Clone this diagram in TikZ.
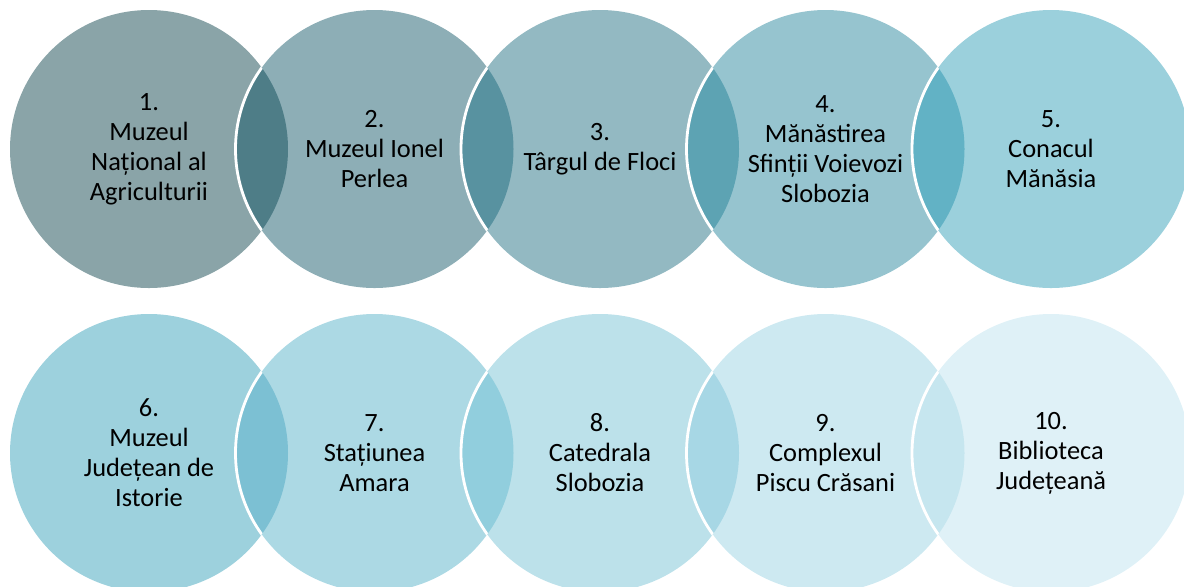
\documentclass[tikz,border=0pt]{standalone}
\usepackage{fontspec}
\setmainfont{Carlito}
\definecolor{cA}{HTML}{8AA4A8}
\definecolor{cB}{HTML}{8DAEB6}
\definecolor{cC}{HTML}{93B9C2}
\definecolor{cD}{HTML}{96C4CF}
\definecolor{cE}{HTML}{9BD0DC}
\definecolor{lA}{HTML}{4E7D87}
\definecolor{lB}{HTML}{5892A0}
\definecolor{lC}{HTML}{5DA3B3}
\definecolor{lD}{HTML}{62B2C5}
\definecolor{cF}{HTML}{9DD1DD}
\definecolor{cG}{HTML}{ACD9E4}
\definecolor{cH}{HTML}{BCE1EA}
\definecolor{cI}{HTML}{CDE9F1}
\definecolor{cJ}{HTML}{DFF1F7}
\definecolor{lF}{HTML}{7CC0D3}
\definecolor{lG}{HTML}{91CEDD}
\definecolor{lH}{HTML}{A7D7E5}
\definecolor{lI}{HTML}{C6E6EF}
\tikzset{
  venn/.style={circle, minimum size=139pt, inner sep=0pt, draw=none, align=center,
    text=black, font=\fontsize{13.2}{15}\selectfont},
  sep/.style={white, line width=1.4pt}
}
\begin{document}
\begin{tikzpicture}[x=0.5pt,y=-0.5pt]
\useasboundingbox (0,0) rectangle (1184,586);
\begin{scope}
\clip (0,0) rectangle (1184,586);
% top row
\node[venn, fill=cA] (n1) at (149,149) {1.\\Muzeul\\Național al\\Agriculturii};
\node[venn, fill=cB] (n2) at (374.5,149) {2.\\Muzeul Ionel\\Perlea};
\node[venn, fill=cC] (n3) at (600,149) {3.\\Târgul de Floci};
\node[venn, fill=cD] (n4) at (825.5,149) {4.\\Mănăstirea\\Sfinții Voievozi\\Slobozia};
\node[venn, fill=cE] (n5) at (1051,149) {5.\\Conacul\\Mănăsia};
% bottom row
\node[venn, fill=cF] (n6) at (149,453) {6.\\Muzeul\\Județean de\\Istorie};
\node[venn, fill=cG] (n7) at (374.5,453) {7.\\Stațiunea\\Amara};
\node[venn, fill=cH] (n8) at (600,453) {8.\\Catedrala\\Slobozia};
\node[venn, fill=cI] (n9) at (825.5,453) {9.\\Complexul\\Piscu Crăsani};
\node[venn, fill=cJ] (n10) at (1051,453) {10.\\Biblioteca\\Județeană};
% lenses
\foreach \a/\b/\c in {n1/n2/lA, n2/n3/lB, n3/n4/lC, n4/n5/lD, n6/n7/lF, n7/n8/lG, n8/n9/lH, n9/n10/lI}{
  \begin{scope}
    \clip (\a.center) circle[radius=69.5pt];
    \fill[\c] (\b.center) circle[radius=69.5pt];
    \draw[sep] (\b.center) circle[radius=69.5pt];
  \end{scope}
}
\end{scope}
\end{tikzpicture}
\end{document}
